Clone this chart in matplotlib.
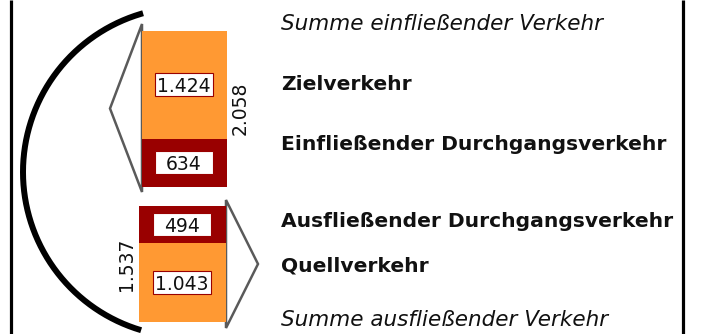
import numpy as np
import matplotlib
matplotlib.use("Agg")
import matplotlib.pyplot as plt
from matplotlib.patches import Polygon, Rectangle

# Verkehrsmengen (Kfz/Tag)
ziel = 1424
durch_ein = 634
durch_aus = 494
quell = 1043

texte = ["Summe einfließender Verkehr", "Zielverkehr", "Einfließender Durchgangsverkehr",
         "Ausfließender Durchgangsverkehr", "Quellverkehr", "Summe ausfließender Verkehr"]
stile = ["italic", "bold", "bold", "bold", "bold", "italic"]
text_y = [30, 90, 150, 227, 271, 326]   # Grundlinien in px

ORANGE = "#FF9933"
DUNKELROT = "#990000"
GRAU = "#5a5a5a"
SCHWARZ = "#111111"
W, H = 706, 334
PX = 2058 / 155.5          # Kfz pro Pixel
FONT = "DejaVu Sans"

def fmt(v):
    return f"{v:,}".replace(",", ".")

fig = plt.figure(figsize=(W / 100, H / 100), dpi=100)
ax = fig.add_axes([0, 0, 1, 1])
ax.set_xlim(0, W); ax.set_ylim(H, 0); ax.axis("off")
axb = fig.add_axes([0, 0, 1, 1], zorder=2)
axb.set_xlim(0, W); axb.set_ylim(H * PX, 0); axb.axis("off")
axb.patch.set_alpha(0)

# Rahmenlinien
for x in (11, 683):
    ax.plot([x, x], [0, H], color="black", lw=2.3, solid_capstyle="butt")

# Bogen links
t = np.radians(np.linspace(106.5, 254.2, 200))
ax.plot(188 + 165 * np.cos(t), 172 + 165 * np.sin(t), color="black", lw=4.3,
        solid_capstyle="butt")

# Pfeilspitzen
ax.add_patch(Polygon([(142, 24), (110, 108.5), (142, 192)], closed=True,
                     fc="white", ec=GRAU, lw=1.8))
ax.add_patch(Polygon([(226, 200), (258, 264), (226, 328)], closed=True,
                     fc="white", ec=GRAU, lw=1.8))

# Balken
top_ein = 31 * PX
top_aus = 206 * PX
stapel = [
    (184.5, 85, [(ziel, ORANGE), (durch_ein, DUNKELROT)], top_ein, 240),
    (182.5, 87, [(durch_aus, DUNKELROT), (quell, ORANGE)], top_aus, 127),
]
for xc, breite, teile, top, x_summe in stapel:
    unten = top
    for wert, farbe in teile:
        axb.bar(xc, wert, width=breite, bottom=unten, color=farbe)
        ym = unten + wert / 2
        axb.add_patch(Rectangle((xc - 29.5, ym - 11.5 * PX), 58, 23 * PX,
                                fc="white", ec=DUNKELROT, lw=0.8, zorder=3))
        axb.text(xc - 0.5, ym, fmt(wert), ha="center", va="center_baseline",
                 fontsize=13.5, family=FONT, color=SCHWARZ, zorder=4)
        unten += wert
    summe = sum(w for w, _ in teile)
    axb.text(x_summe, top + summe / 2, fmt(summe), rotation=90, ha="center",
             va="center", fontsize=13.5, family=FONT, color=SCHWARZ)

# Beschriftung rechts
for txt, stil, y in zip(texte, stile, text_y):
    if stil == "bold":
        kw = {"fontweight": "bold", "fontsize": 14.6}
    else:
        kw = {"fontstyle": "italic", "fontsize": 15.5}
    ax.text(281, y, txt, ha="left", va="baseline", family=FONT,
            color=SCHWARZ, **kw)

fig.savefig("out.png", dpi=100)
